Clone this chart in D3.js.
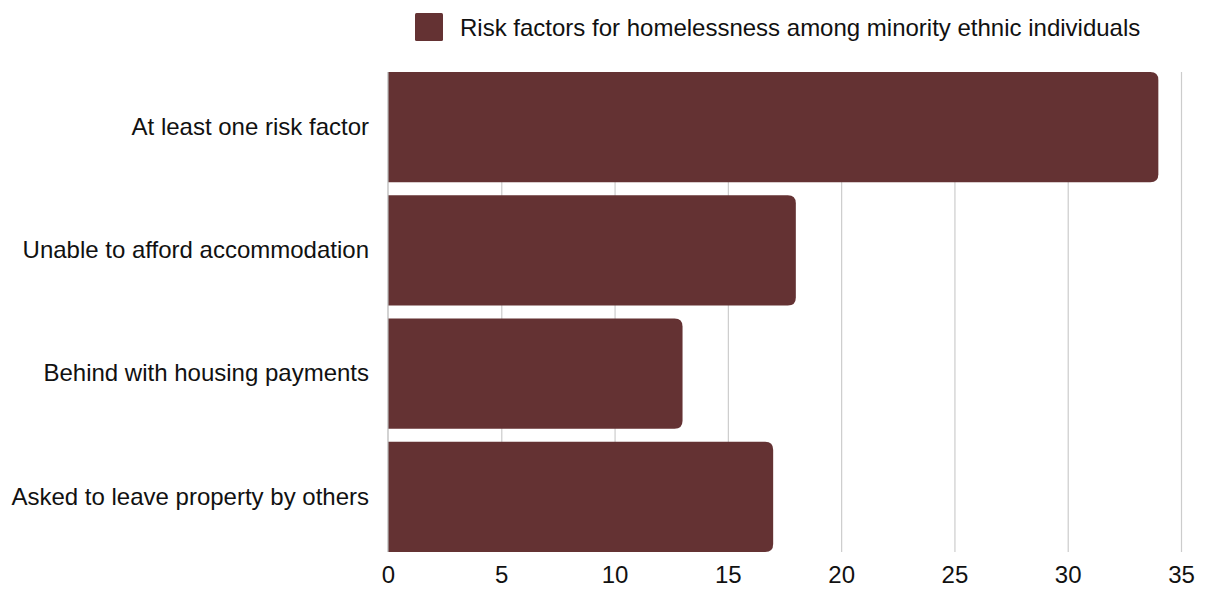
<!DOCTYPE html>
<html>
<head>
<meta charset="utf-8">
<script src="https://cdn.jsdelivr.net/npm/d3@7"></script>
<style>
  html, body { margin: 0; padding: 0; background: #fff; }
  svg { display: block; }
  text { font-family: "Liberation Sans", Arial, sans-serif; fill: #111; }
</style>
</head>
<body>
<svg id="chart" width="1207" height="596"></svg>
<script>
// Share of minority ethnic individuals reporting each risk factor (%)
const categories = [
  "At least one risk factor",
  "Unable to afford accommodation",
  "Behind with housing payments",
  "Asked to leave property by others"
];
const values = [34, 18, 13, 17];
const tickValues = [0, 5, 10, 15, 20, 25, 30, 35];
const seriesName = "Risk factors for homelessness among minority ethnic individuals";

const barColor = "#643233";
const gridColor = "#cccccc";
const fontSize = 24;

const svg = d3.select("#chart");
const margin = { top: 72, right: 26, bottom: 45, left: 388 };
const width = 1207, height = 596;

const x = d3.scaleLinear()
  .domain([0, 35])
  .range([margin.left, 1181]);

const y = d3.scaleBand()
  .domain(categories)
  .range([margin.top, 552])
  .paddingInner(0.106)
  .paddingOuter(0);

// vertical gridlines
svg.append("g")
  .selectAll("line")
  .data(tickValues.filter(d => d > 0))
  .join("line")
  .attr("x1", d => x(d) + 0.5)
  .attr("x2", d => x(d) + 0.5)
  .attr("y1", margin.top)
  .attr("y2", 552)
  .attr("stroke", gridColor)
  .attr("stroke-width", 1.2);

// bars: square on the baseline, rounded at the value end
const r = 8;
svg.append("g")
  .selectAll("path")
  .data(categories.map((c, i) => ({ c, v: values[i] })))
  .join("path")
  .attr("fill", barColor)
  .attr("d", d => {
    const x0 = x(0), x1 = x(d.v), y0 = y(d.c), h = y.bandwidth();
    return `M${x0},${y0}H${x1 - r}Q${x1},${y0} ${x1},${y0 + r}` +
           `V${y0 + h - r}Q${x1},${y0 + h} ${x1 - r},${y0 + h}H${x0}Z`;
  });

// baseline axis
svg.append("line")
  .attr("x1", x(0)).attr("x2", x(0))
  .attr("y1", margin.top).attr("y2", 552)
  .attr("stroke", "#b5b5b5")
  .attr("stroke-width", 1.2);

// x axis tick labels
const xAxis = d3.axisBottom(x).tickValues(tickValues).tickSize(0).tickPadding(0);
const gx = svg.append("g")
  .attr("transform", `translate(0, 566)`)
  .call(xAxis);
gx.select(".domain").remove();
gx.selectAll("text")
  .attr("font-size", fontSize)
  .attr("font-family", "Liberation Sans, Arial, sans-serif")
  .attr("fill", "#111")
  .attr("dy", "0.72em");

// y axis category labels
const yAxis = d3.axisLeft(y).tickSize(0).tickPadding(19);
const gy = svg.append("g")
  .attr("transform", `translate(${x(0)}, 0)`)
  .call(yAxis);
gy.select(".domain").remove();
gy.selectAll("text")
  .attr("font-size", fontSize)
  .attr("font-family", "Liberation Sans, Arial, sans-serif")
  .attr("fill", "#111");

// legend
const legend = svg.append("g");
legend.append("rect")
  .attr("x", 415).attr("y", 13)
  .attr("width", 28).attr("height", 28)
  .attr("rx", 1.5)
  .attr("fill", barColor);
legend.append("text")
  .attr("x", 460).attr("y", 36)
  .attr("font-size", fontSize)
  .text(seriesName);
</script>
</body>
</html>
